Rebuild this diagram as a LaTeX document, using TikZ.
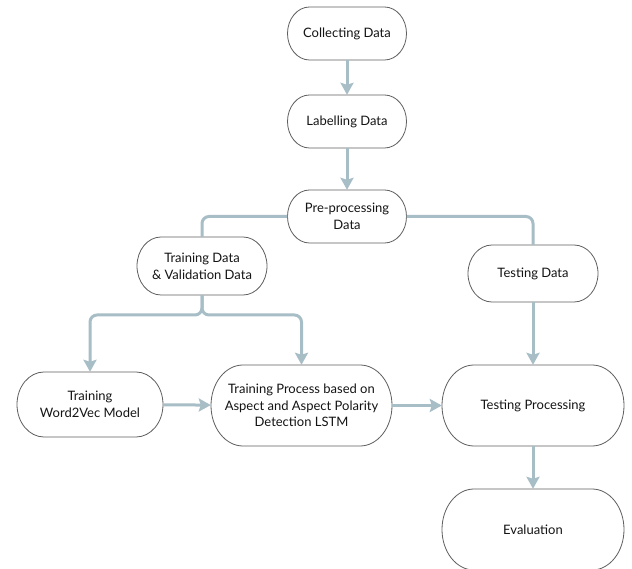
\documentclass[tikz,border=0pt]{standalone}
\usepackage{fontspec}
\setmainfont{Lato}
\usetikzlibrary{arrows.meta,calc}
\definecolor{flow}{RGB}{168,190,199}
\definecolor{edge}{RGB}{95,95,95}
\definecolor{txt}{RGB}{20,20,20}
\tikzset{
  pilltext/.style={rectangle, draw=none, align=center, text=txt,
    font=\fontsize{13}{16.7}\selectfont, inner sep=0pt},
  pilledge/.style={draw=edge, line width=0.8pt, fill=white},
  flowline/.style={draw=flow, line width=3pt, rounded corners=7pt},
  flowarrow/.style={flowline, -{Stealth[width=13pt,length=12pt,inset=2pt]}}
}
% #1 name, #2 centre, #3 width, #4 height, #5 end radius, #6 text
\newcommand\pillat[6]{%
  \path[pilledge] ($(#2)+(-#3/2+#5,-#4/2)$) -- ($(#2)+(#3/2-#5,-#4/2)$)
    arc[start angle=90,end angle=-90,x radius=#5pt,y radius=#4pt/2]
    -- ($(#2)+(-#3/2+#5,#4/2)$)
    arc[start angle=270,end angle=90,x radius=#5pt,y radius=#4pt/2] -- cycle;
  \node[pilltext, minimum width=#3pt, minimum height=#4pt] (#1) at (#2) {#6};}
\begin{document}
\begin{tikzpicture}[x=1pt,y=-1pt]
\useasboundingbox (0,0) rectangle (632,569);
\fill[white] (0,0) rectangle (632,569);
\pillat{cd}{347,33.5}{119}{53}{22}{Collecting Data}
\pillat{ld}{347,121.5}{119}{53}{22}{Labelling Data}
\pillat{pp}{347,216.5}{119}{53}{22}{Pre-processing\\Data}
\pillat{tv}{202,266}{130}{58}{24}{Training Data\\\& Validation Data}
\pillat{td}{533,273.5}{130}{57}{24}{Testing Data}
\pillat{w2v}{90,404.5}{146}{65}{27}{Training\\Word2Vec Model}
\pillat{tp}{301.5,405.5}{181}{81}{32}{Training Process based on\\Aspect and Aspect Polarity\\Detection LSTM}
\pillat{tpr}{533,405.5}{182}{81}{32}{Testing Processing}
\pillat{ev}{533,529.5}{182}{81}{32}{Evaluation}
\coordinate (split) at (202,315);
\draw[flowarrow] (cd) -- (ld);
\draw[flowarrow] (ld) -- (pp);
\draw[flowline] (pp.west) -| (tv.north);
\draw[flowline] (pp.east) -| (td.north);
\draw[flowarrow] (tv.south) -- (split) -| (w2v.north);
\draw[flowarrow] (tv.south) -- (split) -| (tp.north);
\draw[flowarrow] (td) -- (tpr);
\draw[flowarrow] (w2v) -- (tp);
\draw[flowarrow] (tp) -- (tpr);
\draw[flowarrow] (tpr) -- (ev);
\end{tikzpicture}
\end{document}
